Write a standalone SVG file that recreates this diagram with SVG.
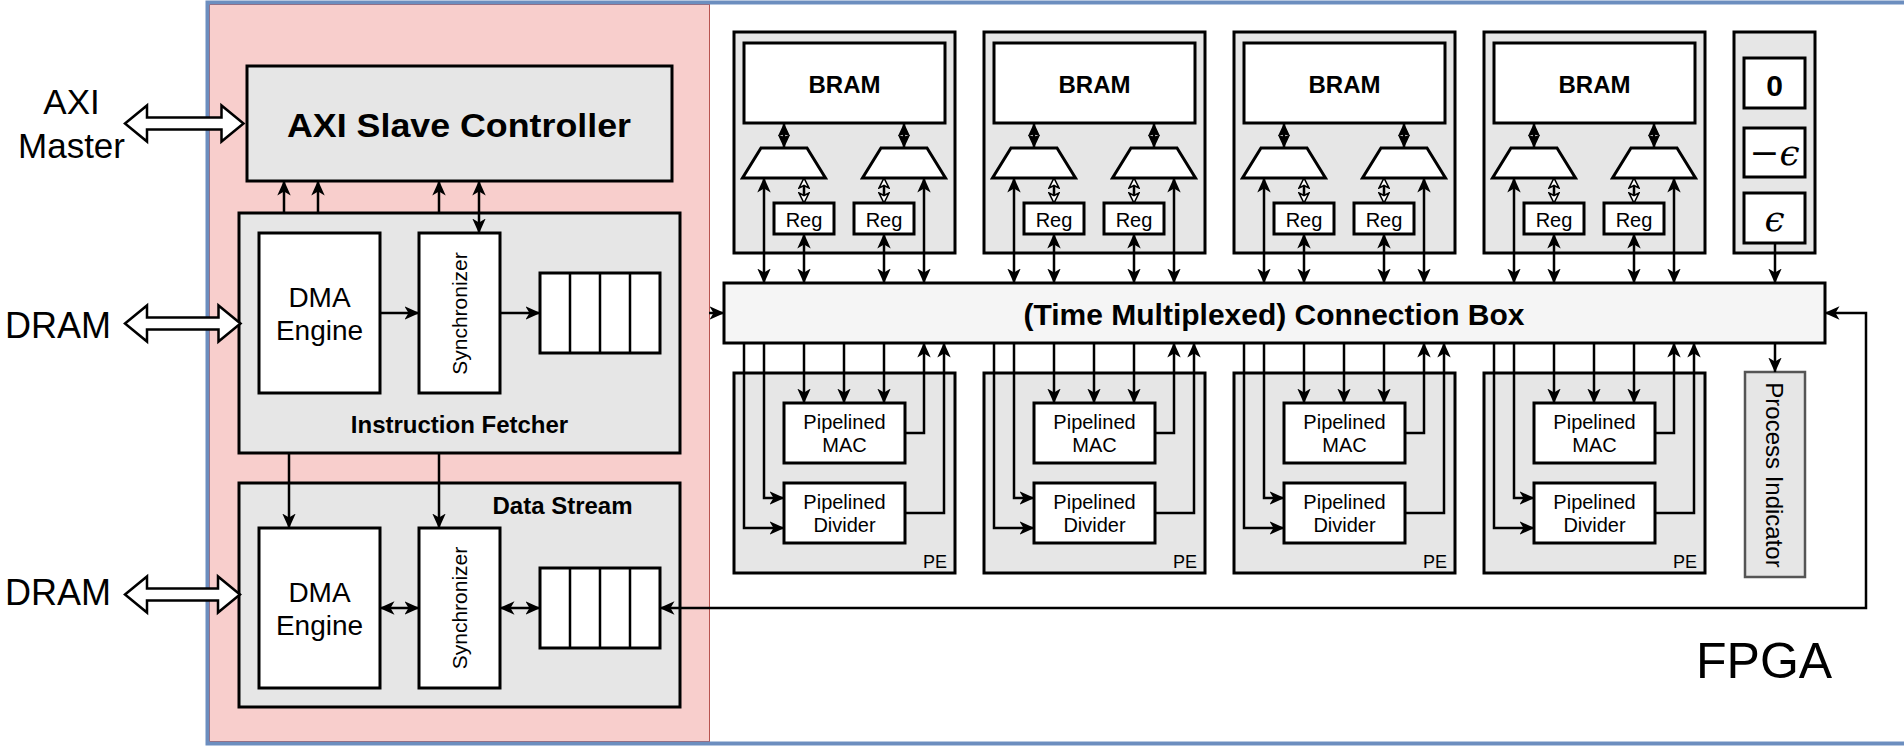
<svg xmlns="http://www.w3.org/2000/svg" width="1904" height="746" viewBox="0 0 1904 746">
<defs>
<style>
.box{fill:#e6e6e6;stroke:#000;stroke-width:3}
.wbox{fill:#fff;stroke:#000;stroke-width:3}
.ln{fill:none;stroke:#000;stroke-width:2.5}
.t{font-family:"Liberation Sans",Arial,Helvetica,sans-serif;fill:#000}
.b{font-weight:bold}
.m{text-anchor:middle}
.ar{marker-end:url(#ah)}
.ar2{marker-start:url(#ah);marker-end:url(#ah)}
.sf{marker-start:url(#sf);marker-end:url(#sf)}
.so{marker-start:url(#so);marker-end:url(#so)}
.hollow{fill:#fff;stroke:#000;stroke-width:2.5;stroke-linejoin:miter}
.eps{font-family:"DejaVu Serif","Liberation Serif",serif;font-style:italic}
</style>
<marker id="ah" viewBox="0 0 15 14" refX="14.5" refY="7" markerWidth="15" markerHeight="14" markerUnits="userSpaceOnUse" orient="auto-start-reverse"><path d="M0,0.3 L15,7 L0,13.7 L4,7 z" fill="#000"/></marker>
<marker id="sf" viewBox="0 0 13 13" refX="13" refY="6.5" markerWidth="13" markerHeight="13" markerUnits="userSpaceOnUse" orient="auto-start-reverse"><path d="M0,0.5 L13,6.5 L0,12.5 L1.5,6.5 z" fill="#000"/></marker>
<marker id="so" viewBox="-1 -1 12 12" refX="10" refY="5" markerWidth="12" markerHeight="12" markerUnits="userSpaceOnUse" orient="auto-start-reverse"><path d="M0,0 L10,5 L0,10 L2.5,5 z" fill="#fff" stroke="#000" stroke-width="1.6"/></marker>
</defs>

<rect x="0" y="0" width="1904" height="746" fill="#fff"/>

<g id="fpga">
<rect x="207.5" y="2.5" width="1888.5" height="741" fill="#fff"/>
<rect id="host-region" x="209.5" y="4.5" width="500" height="737" fill="#f8cecc" stroke="#b85450" stroke-width="1"/>
<rect x="207.5" y="2.5" width="1888.5" height="741" fill="none" stroke="#6c8ebf" stroke-width="4"/>
<text class="t" x="1696" y="678" font-size="50">FPGA</text>
</g>

<g id="axi-master-label">
<text class="t m" x="71.5" y="114" font-size="35">AXI</text>
<text class="t m" x="71.5" y="158" font-size="35">Master</text>
</g>
<g id="dram-label-1"><text class="t" x="5" y="338" font-size="36">DRAM</text></g>
<g id="dram-label-2"><text class="t" x="5" y="605" font-size="36">DRAM</text></g>

<g id="axi-slave-controller">
<rect class="box" x="247" y="66" width="425" height="115"/>
<text class="t b" x="287" y="137" font-size="33" textLength="344" lengthAdjust="spacingAndGlyphs">AXI Slave Controller</text>
</g>

<g id="instruction-fetcher">
<rect class="box" x="239" y="213" width="441" height="240"/>
<text class="t b m" x="459.5" y="432.5" font-size="24">Instruction Fetcher</text>
</g>
<g id="if-dma">
<rect class="wbox" x="259" y="233" width="121" height="160"/>
<text class="t m" x="319.5" y="306.5" font-size="28">DMA</text>
<text class="t m" x="319.5" y="340" font-size="28">Engine</text>
</g>
<g id="if-sync">
<rect class="wbox" x="419" y="233" width="81" height="160"/>
<text class="t m" transform="translate(467,313.5) rotate(-90)" font-size="21">Synchronizer</text>
</g>
<g id="if-queue">
<rect class="wbox" x="540" y="273" width="120" height="80"/>
<path class="ln" d="M570,273V353M600,273V353M630,273V353"/>
</g>

<g id="data-stream">
<rect class="box" x="239" y="483" width="441" height="224"/>
<text class="t b m" x="562.5" y="513.5" font-size="24">Data Stream</text>
</g>
<g id="ds-dma">
<rect class="wbox" x="259" y="528" width="121" height="160"/>
<text class="t m" x="319.5" y="601.5" font-size="28">DMA</text>
<text class="t m" x="319.5" y="635" font-size="28">Engine</text>
</g>
<g id="ds-sync">
<rect class="wbox" x="419" y="528" width="81" height="160"/>
<text class="t m" transform="translate(467,608) rotate(-90)" font-size="21">Synchronizer</text>
</g>
<g id="ds-queue">
<rect class="wbox" x="540" y="568" width="120" height="80"/>
<path class="ln" d="M570,568V648M600,568V648M630,568V648"/>
</g>

<g id="connection-box">
<rect x="724" y="283" width="1101" height="60" fill="#f5f5f5" stroke="#000" stroke-width="3"/>
<text class="t b" x="1023.5" y="325" font-size="29" textLength="501" lengthAdjust="spacingAndGlyphs">(Time Multiplexed) Connection Box</text>
</g>

<g id="bram-groups">
<g id="bram-group-1" transform="translate(0,0)">
<rect class="box" x="734" y="32" width="221" height="221"/>
<rect class="wbox" x="744" y="43" width="201" height="80"/>
<text class="t b m" x="844.5" y="93" font-size="24">BRAM</text>
<polygon class="wbox" points="761,148 807,148 825.5,178 742.5,178"/>
<polygon class="wbox" points="881,148 927,148 945.5,178 862.5,178"/>
<rect class="wbox" x="774" y="203" width="60" height="31"/>
<text class="t m" x="804" y="226.5" font-size="20">Reg</text>
<rect class="wbox" x="854" y="203" width="60" height="31"/>
<text class="t m" x="884" y="226.5" font-size="20">Reg</text>
</g>
<g id="bram-group-2" transform="translate(250,0)">
<rect class="box" x="734" y="32" width="221" height="221"/>
<rect class="wbox" x="744" y="43" width="201" height="80"/>
<text class="t b m" x="844.5" y="93" font-size="24">BRAM</text>
<polygon class="wbox" points="761,148 807,148 825.5,178 742.5,178"/>
<polygon class="wbox" points="881,148 927,148 945.5,178 862.5,178"/>
<rect class="wbox" x="774" y="203" width="60" height="31"/>
<text class="t m" x="804" y="226.5" font-size="20">Reg</text>
<rect class="wbox" x="854" y="203" width="60" height="31"/>
<text class="t m" x="884" y="226.5" font-size="20">Reg</text>
</g>
<g id="bram-group-3" transform="translate(500,0)">
<rect class="box" x="734" y="32" width="221" height="221"/>
<rect class="wbox" x="744" y="43" width="201" height="80"/>
<text class="t b m" x="844.5" y="93" font-size="24">BRAM</text>
<polygon class="wbox" points="761,148 807,148 825.5,178 742.5,178"/>
<polygon class="wbox" points="881,148 927,148 945.5,178 862.5,178"/>
<rect class="wbox" x="774" y="203" width="60" height="31"/>
<text class="t m" x="804" y="226.5" font-size="20">Reg</text>
<rect class="wbox" x="854" y="203" width="60" height="31"/>
<text class="t m" x="884" y="226.5" font-size="20">Reg</text>
</g>
<g id="bram-group-4" transform="translate(750,0)">
<rect class="box" x="734" y="32" width="221" height="221"/>
<rect class="wbox" x="744" y="43" width="201" height="80"/>
<text class="t b m" x="844.5" y="93" font-size="24">BRAM</text>
<polygon class="wbox" points="761,148 807,148 825.5,178 742.5,178"/>
<polygon class="wbox" points="881,148 927,148 945.5,178 862.5,178"/>
<rect class="wbox" x="774" y="203" width="60" height="31"/>
<text class="t m" x="804" y="226.5" font-size="20">Reg</text>
<rect class="wbox" x="854" y="203" width="60" height="31"/>
<text class="t m" x="884" y="226.5" font-size="20">Reg</text>
</g>
</g>

<g id="pe-groups">
<g id="pe-1" transform="translate(0,0)">
<rect class="box" x="734" y="373" width="221" height="200"/>
<text class="t" x="947" y="568" font-size="18" text-anchor="end">PE</text>
<rect class="wbox" x="784" y="403" width="121" height="60"/>
<text class="t m" x="844.5" y="428.5" font-size="20">Pipelined</text>
<text class="t m" x="844.5" y="451.5" font-size="20">MAC</text>
<rect class="wbox" x="784" y="483" width="121" height="60"/>
<text class="t m" x="844.5" y="508.5" font-size="20">Pipelined</text>
<text class="t m" x="844.5" y="531.5" font-size="20">Divider</text>
</g>
<g id="pe-2" transform="translate(250,0)">
<rect class="box" x="734" y="373" width="221" height="200"/>
<text class="t" x="947" y="568" font-size="18" text-anchor="end">PE</text>
<rect class="wbox" x="784" y="403" width="121" height="60"/>
<text class="t m" x="844.5" y="428.5" font-size="20">Pipelined</text>
<text class="t m" x="844.5" y="451.5" font-size="20">MAC</text>
<rect class="wbox" x="784" y="483" width="121" height="60"/>
<text class="t m" x="844.5" y="508.5" font-size="20">Pipelined</text>
<text class="t m" x="844.5" y="531.5" font-size="20">Divider</text>
</g>
<g id="pe-3" transform="translate(500,0)">
<rect class="box" x="734" y="373" width="221" height="200"/>
<text class="t" x="947" y="568" font-size="18" text-anchor="end">PE</text>
<rect class="wbox" x="784" y="403" width="121" height="60"/>
<text class="t m" x="844.5" y="428.5" font-size="20">Pipelined</text>
<text class="t m" x="844.5" y="451.5" font-size="20">MAC</text>
<rect class="wbox" x="784" y="483" width="121" height="60"/>
<text class="t m" x="844.5" y="508.5" font-size="20">Pipelined</text>
<text class="t m" x="844.5" y="531.5" font-size="20">Divider</text>
</g>
<g id="pe-4" transform="translate(750,0)">
<rect class="box" x="734" y="373" width="221" height="200"/>
<text class="t" x="947" y="568" font-size="18" text-anchor="end">PE</text>
<rect class="wbox" x="784" y="403" width="121" height="60"/>
<text class="t m" x="844.5" y="428.5" font-size="20">Pipelined</text>
<text class="t m" x="844.5" y="451.5" font-size="20">MAC</text>
<rect class="wbox" x="784" y="483" width="121" height="60"/>
<text class="t m" x="844.5" y="508.5" font-size="20">Pipelined</text>
<text class="t m" x="844.5" y="531.5" font-size="20">Divider</text>
</g>
</g>

<g id="constants">
<rect class="box" x="1734" y="32" width="81" height="221"/>
<rect class="wbox" x="1744" y="58" width="61" height="50"/>
<text class="t b m" x="1774.5" y="96" font-size="30">0</text>
<rect class="wbox" x="1744" y="128" width="61" height="49"/>
<text class="eps m" x="1774.5" y="165" font-size="36">−ϵ</text>
<rect class="wbox" x="1744" y="193" width="61" height="50"/>
<text class="eps m" x="1774.5" y="231" font-size="36">ϵ</text>
</g>

<g id="process-indicator">
<rect x="1745" y="372" width="60" height="205" fill="#e6e6e6" stroke="#555" stroke-width="2.5"/>
<text class="t m" transform="translate(1766,475) rotate(90)" font-size="24">Process Indicator</text>
</g>

<g id="connectors">
<polygon class="hollow" points="125,123.5 147,105.5 147,117.5 221.5,117.5 221.5,105.5 243.5,123.5 221.5,141.5 221.5,129.5 147,129.5 147,141.5"/>
<polygon class="hollow" points="125,323.5 147,305.5 147,317.5 218.5,317.5 218.5,305.5 240.5,323.5 218.5,341.5 218.5,329.5 147,329.5 147,341.5"/>
<polygon class="hollow" points="125,594.5 147,576.5 147,588.5 218,588.5 218,576.5 240,594.5 218,612.5 218,600.5 147,600.5 147,612.5"/>
<path class="ln ar" d="M284,213V181"/>
<path class="ln ar" d="M318,213V181"/>
<path class="ln ar" d="M439,213V181"/>
<path class="ln ar2" d="M479,181V233"/>
<path class="ln ar" d="M380,313H419"/>
<path class="ln ar" d="M500,313H540"/>
<path class="ln ar" d="M289,453V528"/>
<path class="ln ar" d="M439,453V528"/>
<path class="ln ar2" d="M380,608H419"/>
<path class="ln ar2" d="M500,608H540"/>
<path class="ln ar" d="M709,313H724"/>
<path class="ln ar2" d="M1825,313H1866V608H660"/>
<path class="ln ar" d="M1775,243V283"/>
<path class="ln ar" d="M1775,343V372"/>
<g id="bram-links-1" transform="translate(0,0)">
<path class="ln sf" d="M784,123V148"/><path class="ln sf" d="M904,123V148"/>
<path class="ln so" d="M804,178V203"/><path class="ln so" d="M884,178V203"/>
<path class="ln ar2" d="M764,178V283"/><path class="ln ar2" d="M924,178V283"/>
<path class="ln ar2" d="M804,234V283"/><path class="ln ar2" d="M884,234V283"/>
</g>
<g id="bram-links-2" transform="translate(250,0)">
<path class="ln sf" d="M784,123V148"/><path class="ln sf" d="M904,123V148"/>
<path class="ln so" d="M804,178V203"/><path class="ln so" d="M884,178V203"/>
<path class="ln ar2" d="M764,178V283"/><path class="ln ar2" d="M924,178V283"/>
<path class="ln ar2" d="M804,234V283"/><path class="ln ar2" d="M884,234V283"/>
</g>
<g id="bram-links-3" transform="translate(500,0)">
<path class="ln sf" d="M784,123V148"/><path class="ln sf" d="M904,123V148"/>
<path class="ln so" d="M804,178V203"/><path class="ln so" d="M884,178V203"/>
<path class="ln ar2" d="M764,178V283"/><path class="ln ar2" d="M924,178V283"/>
<path class="ln ar2" d="M804,234V283"/><path class="ln ar2" d="M884,234V283"/>
</g>
<g id="bram-links-4" transform="translate(750,0)">
<path class="ln sf" d="M784,123V148"/><path class="ln sf" d="M904,123V148"/>
<path class="ln so" d="M804,178V203"/><path class="ln so" d="M884,178V203"/>
<path class="ln ar2" d="M764,178V283"/><path class="ln ar2" d="M924,178V283"/>
<path class="ln ar2" d="M804,234V283"/><path class="ln ar2" d="M884,234V283"/>
</g>
<g id="pe-links-1" transform="translate(0,0)">
<path class="ln ar" d="M744,343V528H784"/>
<path class="ln ar" d="M764,343V498H784"/>
<path class="ln ar" d="M804,343V403"/>
<path class="ln ar" d="M844,343V403"/>
<path class="ln ar" d="M884,343V403"/>
<path class="ln ar" d="M905,433H924V343"/>
<path class="ln ar" d="M905,513H944V343"/>
</g>
<g id="pe-links-2" transform="translate(250,0)">
<path class="ln ar" d="M744,343V528H784"/>
<path class="ln ar" d="M764,343V498H784"/>
<path class="ln ar" d="M804,343V403"/>
<path class="ln ar" d="M844,343V403"/>
<path class="ln ar" d="M884,343V403"/>
<path class="ln ar" d="M905,433H924V343"/>
<path class="ln ar" d="M905,513H944V343"/>
</g>
<g id="pe-links-3" transform="translate(500,0)">
<path class="ln ar" d="M744,343V528H784"/>
<path class="ln ar" d="M764,343V498H784"/>
<path class="ln ar" d="M804,343V403"/>
<path class="ln ar" d="M844,343V403"/>
<path class="ln ar" d="M884,343V403"/>
<path class="ln ar" d="M905,433H924V343"/>
<path class="ln ar" d="M905,513H944V343"/>
</g>
<g id="pe-links-4" transform="translate(750,0)">
<path class="ln ar" d="M744,343V528H784"/>
<path class="ln ar" d="M764,343V498H784"/>
<path class="ln ar" d="M804,343V403"/>
<path class="ln ar" d="M844,343V403"/>
<path class="ln ar" d="M884,343V403"/>
<path class="ln ar" d="M905,433H924V343"/>
<path class="ln ar" d="M905,513H944V343"/>
</g>
</g>
</svg>
